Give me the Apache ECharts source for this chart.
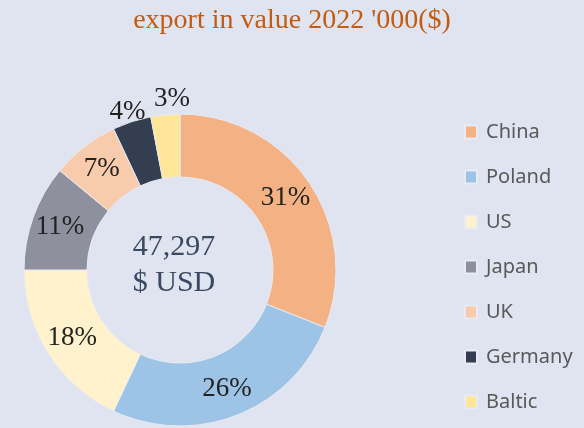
<!DOCTYPE html>
<html>
<head>
<meta charset="utf-8">
<title>export in value 2022</title>
<script src="https://cdn.jsdelivr.net/npm/echarts@6/dist/echarts.min.js"></script>
<style>
  html, body { margin: 0; padding: 0; background: #dfe4f0; }
  #export_pie { width: 584px; height: 428px; }
</style>
</head>
<body>
<div id="export_pie"></div>
<script>
// export value per country, '000 $
const countries = ["China", "Poland", "US", "Japan", "UK", "Germany", "Baltic"];
const values = [14662, 12297, 8513, 5203, 3311, 1892, 1419];
const colors = ["#f4b183", "#9dc3e6", "#fff2cc", "#8e909e", "#f8cbad", "#333f50", "#ffe699"];

const total = values.reduce((a, b) => a + b, 0);

// small slices get their label pushed out above the ring
const labelShift = {
  Germany: [-13, -37],
  Baltic: [4, -44]
};

const option = {
  backgroundColor: "#dfe4f0",
  title: {
    text: "export in value 2022 '000($)",
    left: "center",
    top: 2,
    textStyle: {
      fontFamily: "Liberation Serif",
      fontWeight: "normal",
      fontSize: 28,
      color: "#c55a11"
    }
  },
  legend: {
    orient: "vertical",
    left: 459,
    top: 116,
    itemWidth: 12,
    itemHeight: 13,
    itemGap: 23,
    icon: "rect",
    textStyle: {
      fontFamily: "Noto Sans",
      fontSize: 20,
      color: "#595959",
      lineHeight: 22,
      padding: [0, 0, 0, 4]
    },
    data: countries
  },
  graphic: [
    {
      type: "text",
      x: 174,
      y: 265,
      style: {
        text: total.toLocaleString("en-US") + "\n$ USD",
        fill: "#3b4862",
        font: "30px 'Liberation Serif'",
        lineHeight: 36,
        align: "center",
        verticalAlign: "middle"
      }
    }
  ],
  series: [
    {
      name: "export",
      type: "pie",
      center: [180, 270],
      radius: [93, 156],
      startAngle: 90,
      percentPrecision: 0,
      avoidLabelOverlap: false,
      itemStyle: {
        borderColor: "#e8ebf3",
        borderWidth: 1
      },
      label: {
        position: "inside",
        formatter: "{d}%",
        fontFamily: "Liberation Serif",
        fontSize: 27,
        color: "#222222"
      },
      labelLine: { show: false },
      labelLayout: function (params) {
        const s = labelShift[countries[params.dataIndex]];
        return s ? { dx: s[0], dy: s[1] } : {};
      },
      emphasis: { disabled: true },
      data: countries.map((c, i) => ({
        name: c,
        value: values[i],
        itemStyle: { color: colors[i] }
      }))
    }
  ]
};

let exportPie = echarts.init(document.getElementById("export_pie"));
exportPie.setOption(option);
window.addEventListener("resize", function () {
  exportPie.resize();
});
</script>
</body>
</html>
